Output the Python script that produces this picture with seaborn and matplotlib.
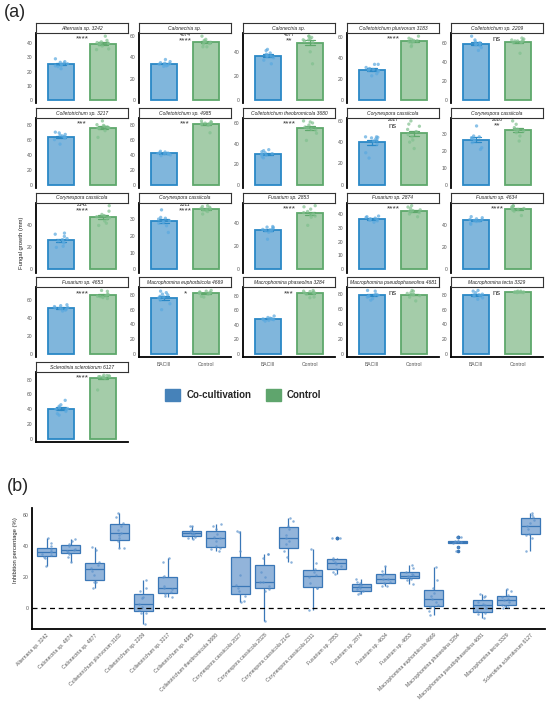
import numpy as np
import pandas as pd
import matplotlib

matplotlib.use("Agg")
import matplotlib.pyplot as plt
import seaborn as sns
from matplotlib.patches import Patch

# ---- data: panel (a) fungal growth (mm) ----
PANEL_TITLES = [
    "Alternaria sp. 3242", "Calonectria sp.", "Calonectria sp.",
    "Colletotrichum plurivorum 3183", "Colletotrichum sp. 2209",
    "Colletotrichum sp. 3217", "Colletotrichum sp. 4985",
    "Colletotrichum theobromicola 3680", "Corynespora cassiicola",
    "Corynespora cassiicola", "Corynespora cassiicola", "Corynespora cassiicola",
    "Fusarium sp. 2853", "Fusarium sp. 2874", "Fusarium sp. 4634",
    "Fusarium sp. 4653", "Macrophomina euphorbiicola 4669",
    "Macrophomina phaseolina 3284", "Macrophomina pseudophaseolina 4681",
    "Macrophomina tecta 3329", "Sclerotinia sclerotiorum 6127",
]
# second title line that spills below the strip
PANEL_NUMBERS = ["", "4874", "4877", "", "", "", "", "", "2027", "2028",
                 "2142", "2311", "", "", "", "", "", "", "", "", ""]
SIGNIF = ["****", "****", "**", "****", "ns", "***", "***", "****", "ns", "**",
          "****", "****", "****", "****", "****", "****", "*", "***", "ns", "ns",
          "****"]
GROUPS = ["BACIII", "Control"]

COCULT = [
    [29, 27, 26.5, 26, 25.5, 25, 24.5, 24, 23.5, 22],
    [38, 36, 35, 34.5, 34, 33.5, 33, 32.5, 32, 31.5],
    [42, 41, 39, 38, 37, 36.5, 36, 35, 33, 30],
    [34, 34, 31, 30, 29, 28.5, 28, 27, 25, 23],
    [67, 63, 61, 60, 59, 58.5, 58, 57, 55, 52],
    [70, 69, 67, 66, 65, 64, 63, 62, 60, 54],
    [45, 44, 43, 42.5, 42, 42, 41.5, 41, 40, 39],
    [34, 33, 32, 31, 30, 29.5, 29, 28.5, 27, 26],
    [45, 45, 44.5, 44, 43, 42, 41, 38, 30, 25],
    [35, 29, 28.5, 28, 27.5, 27, 26, 25, 22, 21],
    [33, 32, 30, 28, 27, 26, 25, 24, 21, 20],
    [35.5, 31, 30.5, 30, 29, 28.5, 28, 27.5, 26, 22],
    [37, 36.5, 36, 35, 34.5, 34, 33.5, 33, 32, 26],
    [38.5, 38, 37.5, 37, 36.5, 36, 36, 35.5, 35, 34],
    [48, 47, 46, 45.5, 45, 44.5, 44, 43.5, 42, 41],
    [55, 54, 53, 52, 51.5, 51, 50.5, 50, 49, 48],
    [85, 83, 81, 80, 78, 77, 76, 73, 68, 60],
    [52, 50, 49, 48.5, 48, 47.5, 47, 47, 46, 45],
    [85, 84, 80, 79, 78.5, 78, 77, 76, 74, 72],
    [86, 85, 83, 81, 80, 80, 79, 78, 76, 74],
    [52, 46, 44, 42, 41, 40, 39, 37, 34, 32],
]
CONTROL = [
    [45, 42, 41, 40.5, 40, 40, 39, 38, 36, 35.5],
    [60, 57, 56, 55, 54.5, 54, 53, 52.5, 50, 50],
    [53, 53, 52, 51, 50, 50, 49, 48, 40, 30],
    [61, 59, 58, 57, 56.5, 56, 55.5, 55, 52, 51],
    [65, 64, 63, 62.5, 62, 62, 61, 60.5, 60, 49],
    [85, 80, 79, 78, 77, 76, 75.5, 75, 72, 63],
    [86, 85, 84, 83, 83, 82, 82, 81, 80, 70],
    [62, 61, 60, 58, 56, 55, 54, 53, 50, 43],
    [60, 57, 55, 52, 50, 47, 45, 42, 40, 34],
    [38, 36, 34, 33, 33, 32.5, 32, 31, 29, 26],
    [58, 53, 50, 49, 48, 47, 46, 44, 42, 40],
    [38, 37.5, 37, 36.5, 36, 36, 35.5, 35, 34.5, 33],
    [55, 54, 52, 50, 49, 48, 47, 46, 45, 38],
    [46, 45, 44, 43, 42.5, 42, 41.5, 41, 40, 38],
    [58, 57.5, 57, 56, 55.5, 55, 54.5, 54, 53, 49],
    [71, 70, 67, 66, 65, 64.5, 64, 63.5, 63, 62],
    [86, 85, 84, 83.5, 83, 82.5, 82, 81, 78, 77],
    [87, 86, 85.5, 85, 84, 83.5, 83, 82, 78, 77],
    [85, 84, 82, 81, 80, 79.5, 79, 78, 76, 71],
    [85, 85, 84.5, 84, 84, 84, 83.5, 83.5, 83, 83],
    [86, 85.5, 85, 84.5, 84, 84, 83.5, 83, 82, 66],
]

# ---- data: panel (b) inhibition percentage (%) ----
ISOLATES = [
    "Alternaria sp. 3242", "Calonectria sp. 4874", "Calonectria sp. 4877",
    "Colletotrichum plurivorum 3183", "Colletotrichum sp. 2209",
    "Colletotrichum sp. 3217", "Colletotrichum sp. 4985",
    "Colletotrichum theobromicola 3680", "Corynespora cassiicola 2027",
    "Corynespora cassiicola 2028", "Corynespora cassiicola 2142",
    "Corynespora cassiicola 2311", "Fusarium sp. 2853", "Fusarium sp. 2874",
    "Fusarium sp. 4634", "Fusarium sp. 4653", "Macrophomina euphorbiicola 4669",
    "Macrophomina phaseolina 3284", "Macrophomina pseudophaseolina 4681",
    "Macrophomina tecta 3329", "Sclerotinia sclerotiorum 6127",
]
INHIBITION = [
    [45, 42, 40, 38, 37, 36, 35, 34, 33, 32, 27],
    [44.5, 43, 41, 40, 38, 37.5, 37, 36, 35, 33, 29.5],
    [39.5, 37.5, 29.5, 28, 26, 24, 21, 17, 16.5, 13],
    [61, 59, 55, 53, 50, 48.5, 47, 45, 43, 39, 38.5],
    [18, 13, 11, 7, 6.5, 2.5, 1, -1, -3, -3.5, -10],
    [32.5, 29.5, 20.5, 20, 14, 13, 12, 10.5, 9, 7.5, 7],
    [53, 53, 50, 49, 48.5, 48, 47.5, 46, 45, 44.5],
    [54.5, 53, 51, 48, 46, 45, 43, 40, 39, 38, 36.5],
    [49.5, 49, 36.5, 21.5, 15, 13, 11, 8, 4.5, 4],
    [35, 35, 32, 23, 20, 17, 16.5, 14, 12, 11, -8.5],
    [58, 56, 53, 51, 47, 45, 43, 41, 37, 33, 30],
    [38, 29, 25, 23, 21, 20, 16, 13, 13, -1],
    [45, 45, 32, 31, 30, 28.5, 27, 25, 23, 22],
    [18.5, 17, 16, 15, 14, 13, 12, 11, 9.5, 9],
    [27, 24, 22, 21, 19, 18.5, 17, 16, 14.5, 14],
    [28, 26, 23.5, 22, 21, 20.5, 20, 19, 18, 15.5],
    [26.5, 18, 13, 10, 8, 6, 4, 2, 1, -2, -4.5],
    [46, 46, 43.5, 43, 43, 42.5, 42.5, 42, 39.5, 37],
    [9, 8, 7, 4, 2.5, 2, 0, -2, -3.5, -4, -6.5],
    [12, 11, 8.5, 7, 6, 5, 4, 2, 1.5, 0.5, 0],
    [61.5, 60, 59, 57, 55, 53, 51, 48, 47, 45, 36.5],
]

W, H = 550, 708
FILL = {"BACIII": "#80b6dc", "Control": "#a4cca9"}
EDGE = {"BACIII": "#2a88c6", "Control": "#5ea86b"}
POINT = {"BACIII": "#5aa9df", "Control": "#80c08e"}
TICK_GRAY = "#555555"


def px_rect(left, top, width, height):
    """Convert a pixel box (from the top-left corner) to figure fractions."""
    return [left / W, 1 - (top + height) / H, width / W, height / H]


def draw_growth_panel(fig, i):
    """One facet of panel (a): mean bar, SE error bar and jittered points."""
    r, c = divmod(i, 5)
    col_left = [36, 139, 243, 347, 451]
    left = col_left[c]
    strip_top = 23 + r * 84.75
    ax = fig.add_axes(px_rect(left, strip_top + 10, 92, 70))
    st = fig.add_axes(px_rect(left, strip_top, 92, 10))

    df = pd.DataFrame({
        "group": ["BACIII"] * len(COCULT[i]) + ["Control"] * len(CONTROL[i]),
        "value": COCULT[i] + CONTROL[i],
    })
    sns.barplot(data=df, x="group", y="value", hue="group", order=GROUPS,
                hue_order=GROUPS, palette=FILL, saturation=1, errorbar="se",
                capsize=0.25, width=0.62, linewidth=1.3,
                err_kws={"linewidth": 0.9}, legend=False, ax=ax)
    for patch, g in zip(ax.patches, GROUPS):
        patch.set_edgecolor(EDGE[g])
    for line in ax.lines:
        xm = np.nanmean(line.get_xdata())
        line.set_color(EDGE["BACIII"] if xm < 0.5 else EDGE["Control"])
    sns.stripplot(data=df, x="group", y="value", hue="group", order=GROUPS,
                  hue_order=GROUPS, palette=POINT, size=2.4, alpha=0.7,
                  jitter=0.16, linewidth=0, legend=False, ax=ax)

    m = max(max(COCULT[i]), max(CONTROL[i]))
    ax.set_ylim(-0.05 * m, 1.05 * m)
    ax.set_xlim(-0.6, 1.6)
    step = 10 if m < 50 else 20
    ax.set_yticks(np.arange(0, m + 0.01, step))
    ax.set_xlabel("")
    ax.set_ylabel("")
    ax.tick_params(axis="y", labelsize=3.6, labelcolor=TICK_GRAY, length=1.5,
                   width=0.5, pad=1)
    for side in ["top", "right"]:
        ax.spines[side].set_visible(False)
    ax.spines["left"].set_linewidth(1.3)
    ax.spines["left"].set_color("black")

    is_bottom = (r == 3 and c > 0) or r == 4
    if is_bottom:
        ax.spines["bottom"].set_linewidth(1.3)
        ax.spines["bottom"].set_color("black")
        ax.tick_params(axis="x", length=1.5, width=0.5, pad=2,
                       labelsize=3.6, labelcolor=TICK_GRAY)
        if r == 4:
            ax.tick_params(axis="x", labelbottom=False)
    else:
        ax.spines["bottom"].set_visible(False)
        ax.tick_params(axis="x", bottom=False, labelbottom=False)

    star_y = 0.92 * m if PANEL_NUMBERS[i] else 0.95 * m
    ax.text(0.5, star_y, SIGNIF[i], ha="center", va="center",
            fontsize=6 if SIGNIF[i] != "ns" else 5.5, color="#333333")
    if PANEL_NUMBERS[i]:
        ax.text(0.5, 1.01, PANEL_NUMBERS[i], transform=ax.transAxes,
                ha="center", va="top", fontsize=3.5, color="#222222")

    st.set_xticks([])
    st.set_yticks([])
    for sp in st.spines.values():
        sp.set_color("#333333")
        sp.set_linewidth(0.8)
    st.text(0.5, 0.45, PANEL_TITLES[i], ha="center", va="center",
            fontsize=3.6, style="italic", transform=st.transAxes)


def draw_inhibition_panel(fig):
    """Panel (b): boxplots of inhibition percentage per isolate."""
    ax = fig.add_axes(px_rect(32, 508, 513, 121))
    rows = []
    for name, vals in zip(ISOLATES, INHIBITION):
        rows += [(name, v) for v in vals]
    df = pd.DataFrame(rows, columns=["isolate", "value"])
    sns.boxplot(data=df, x="isolate", y="value", order=ISOLATES,
                color="#92b4da", saturation=1, linecolor="#3a77b7",
                linewidth=0.9, width=0.78, fliersize=1.6, showcaps=False,
                flierprops={"markerfacecolor": "#3a77b7",
                            "markeredgecolor": "#3a77b7"},
                ax=ax)
    sns.stripplot(data=df, x="isolate", y="value", order=ISOLATES,
                  color="#5b92cc", size=1.8, alpha=0.7, jitter=0.2,
                  linewidth=0, ax=ax)
    ax.axhline(0, color="black", linestyle="--", linewidth=0.9, dashes=(4, 3))
    ax.set_xlim(-0.6, 20.6)
    ax.set_ylim(-13.5, 64.5)
    ax.set_yticks([0, 20, 40, 60])
    ax.set_xlabel("")
    ax.set_ylabel("")
    for side in ["top", "right"]:
        ax.spines[side].set_visible(False)
    for side in ["left", "bottom"]:
        ax.spines[side].set_linewidth(1.3)
        ax.spines[side].set_color("black")
    ax.tick_params(axis="y", labelsize=3.8, labelcolor=TICK_GRAY, length=1.5,
                   width=0.5, pad=1)
    ax.tick_params(axis="x", labelsize=3.7, labelcolor=TICK_GRAY, length=1.5,
                   width=0.5, pad=1)
    plt.setp(ax.get_xticklabels(), rotation=45, ha="right",
             rotation_mode="anchor")


def main():
    sns.set_theme(style="white")
    plt.rcParams["font.family"] = ["Liberation Sans", "DejaVu Sans"]
    np.random.seed(7)

    fig = plt.figure(figsize=(W / 100, H / 100), dpi=100)
    for i in range(len(PANEL_TITLES)):
        draw_growth_panel(fig, i)

    fig.text(22 / W, 1 - 243 / H, "Fungal growth (mm)", rotation=90,
             ha="center", va="center", fontsize=4.2, color="#222222")
    handles = [Patch(facecolor="#4682b9", edgecolor="#4682b9"),
               Patch(facecolor="#5fa56d", edgecolor="#5fa56d")]
    fig.legend(handles, ["Co-cultivation", "Control"], loc="center left",
               bbox_to_anchor=(156 / W, 1 - 395 / H), ncol=2, frameon=False,
               prop={"weight": "bold", "size": 7}, handlelength=1.6,
               handleheight=1.5, columnspacing=1.5, handletextpad=0.6)

    draw_inhibition_panel(fig)
    fig.text(16 / W, 1 - 550 / H, "Inhibition percentage (%)", rotation=90,
             ha="center", va="center", fontsize=4.2, color="#222222")

    fig.text(4 / W, 1 - 4 / H, "(a)", ha="left", va="top", fontsize=13)
    fig.text(7 / W, 1 - 478 / H, "(b)", ha="left", va="top", fontsize=13)

    fig.savefig("out.png", dpi=100)
    plt.close(fig)


if __name__ == "__main__":
    main()
